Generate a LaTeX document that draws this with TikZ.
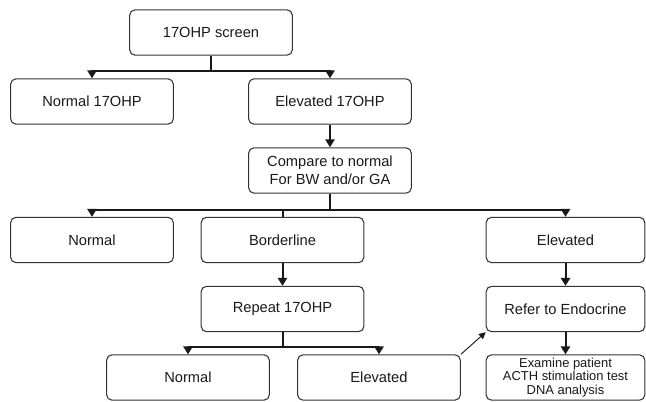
\documentclass[tikz,border=0pt]{standalone}
\usepackage{fontspec}
\setmainfont{Liberation Sans}
\usetikzlibrary{arrows.meta}

\begin{document}
\begin{tikzpicture}[
	x=0.75pt, y=-0.75pt,
	box/.style={draw=black!80, line width=0.8pt, rounded corners=4pt, minimum width=122pt, minimum height=34pt, inner sep=1pt, align=center, text=black!90, font=\fontsize{11}{13.5}\selectfont},
	small/.style={font=\fontsize{9.7}{10.3}\selectfont},
	>={Triangle[length=6pt,width=7pt]}
	]
	
	\useasboundingbox (0,0) rectangle (646,401);
	
	%-----------------------
	% Row heights (centres)
	%-----------------------
	\def\hscreen{32.5}   % Row 1: screening
	\def\hfirst{101.5}   % Row 2: first result
	\def\hcomp{170.5}    % Row 3: comparison
	\def\hsplit{240}     % Row 4: normal / borderline / elevated
	\def\hrepeat{309}    % Row 5: repeat, referral
	\def\hlast{377.5}    % Row 6: outcomes
	
	%-----------------------
	% Row 1 + 2
	%-----------------------
	\node[box] (screen) at (211,\hscreen) {17OHP screen};
	\node[box] (norm17) at (92,\hfirst) {Normal 17OHP};
	\node[box] (elev17) at (330,\hfirst) {Elevated 17OHP};
	
	%-----------------------
	% Row 3: compare
	%-----------------------
	\node[box] (comp) at (330,\hcomp) {Compare to normal\\For BW and/or GA};
	
	%-----------------------
	% Row 4
	%-----------------------
	\node[box] (normA) at (92,\hsplit) {Normal};
	\node[box] (border) at (282.5,\hsplit) {Borderline};
	\node[box, minimum width=119pt] (elevA) at (565.5,\hsplit) {Elevated};
	
	%-----------------------
	% Row 5
	%-----------------------
	\node[box] (repeat) at (282.5,\hrepeat) {Repeat 17OHP};
	\node[box, minimum width=119pt] (refer) at (565.5,\hrepeat) {Refer to Endocrine};
	
	%-----------------------
	% Row 6
	%-----------------------
	\node[box] (normB) at (188,\hlast) {Normal};
	\node[box] (elevB) at (379,\hlast) {Elevated};
	\node[box, small, minimum width=119pt] (exam) at (565.5,\hlast) {Examine patient\\ACTH stimulation test\\DNA analysis};
	
	%-----------------------
	% Connections
	%-----------------------
	\tikzset{connect/.style={->, line width=1.5pt, black!90}}
	
	% screen -> normal / elevated
	\draw[connect] (screen.south) -- ++(0,15) -| (norm17.north);
	\draw[connect] (screen.south) -- ++(0,15) -| (elev17.north);
	
	% elevated -> compare
	\draw[connect] (elev17.south) -- (comp.north);
	
	% compare -> three outcomes
	\draw[connect] (comp.south) -- ++(0,16) -| (normA.north);
	\draw[connect] (comp.south) -- ++(0,16) -| (elevA.north);
	\draw[connect, -] (comp.south) -- ++(0,16) -| (border.north);
	
	% borderline -> repeat, elevated -> refer
	\draw[connect] (border.south) -- (repeat.north);
	\draw[connect] (elevA.south) -- (refer.north);
	
	% repeat -> normal / elevated
	\draw[connect] (repeat.south) -- ++(0,15) -| (normB.north);
	\draw[connect] (repeat.south) -- ++(0,15) -| (elevB.north);
	
	% elevated again -> refer, refer -> work-up
	\draw[->, line width=0.7pt, black!90, >={Triangle[length=5pt,width=5pt]}] (elevB.north east) -- (refer.south west);
	\draw[connect] (refer.south) -- (exam.north);
	
\end{tikzpicture}
\end{document}
